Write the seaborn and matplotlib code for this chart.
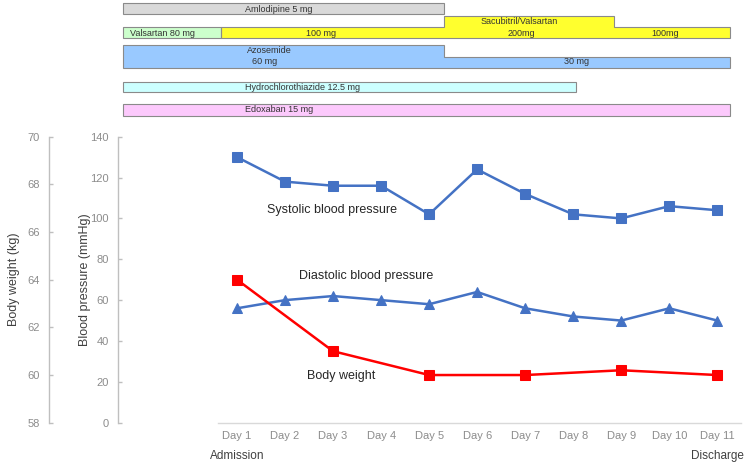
import matplotlib
matplotlib.use("Agg")
import matplotlib.pyplot as plt
import matplotlib.transforms as mtransforms
from matplotlib.patches import Polygon
import seaborn as sns

# ---------------- data ----------------
day_numbers = [1, 2, 3, 4, 5, 6, 7, 8, 9, 10, 11]
day_labels = ["Day 1", "Day 2", "Day 3", "Day 4", "Day 5", "Day 6",
              "Day 7", "Day 8", "Day 9", "Day 10", "Day 11"]
systolic = [130, 118, 116, 116, 102, 124, 112, 102, 100, 106, 104]
diastolic = [56, 60, 62, 60, 58, 64, 56, 52, 50, 56, 50]
weight_days = [1, 3, 5, 7, 9, 11]
body_weight = [64.0, 61.0, 60.0, 60.0, 60.2, 60.0]

bp_ticks = [0, 20, 40, 60, 80, 100, 120, 140]
bw_ticks = [58, 60, 62, 64, 66, 68, 70]

# drug timeline (x in day units)
drug_text = ["Amlodipine 5 mg", "Valsartan 80 mg", "100 mg", "200mg", "100mg",
             "60 mg", "30 mg", "Hydrochlorothiazide 12.5 mg", "Edoxaban 15 mg"]
drug_start = [-1.375, -1.375, 0.66, 5.32, 8.86, -1.375, 5.32, -1.375, -1.375]
drug_end = [5.32, 0.66, 5.32, 8.86, 11.27, 5.32, 11.27, 8.06, 11.27]
drug_group = [0, 1, 2, 2, 2, 3, 3, 4, 5]

# ---------------- layout / style ----------------
drug_top = [3.3, 27.3, 27.3, 15.7, 27.3, 45.0, 56.7, 81.7, 104.3]
drug_bottom = [14.3, 38.3, 38.3, 38.3, 38.3, 67.7, 67.7, 92.3, 115.7]
drug_colors = ["#d9d9d9", "#ccffcc", "#ffff2e", "#ffff2e", "#ffff2e",
               "#99c9ff", "#99c9ff", "#ccffff", "#fcc9fc"]

sns.set_style("white")
plt.rcParams["font.family"] = ["Liberation Sans", "DejaVu Sans"]

W, H = 750, 463
fig = plt.figure(figsize=(7.5, 4.63), dpi=100)

left_px, right_px = 218, 741
top_px, bot_px = 136.7, 422.7
ax = fig.add_axes([left_px / W, (H - bot_px) / H,
                   (right_px - left_px) / W, (bot_px - top_px) / H])

blue = "#4472C4"
red = "#FF0000"

sns.lineplot(x=day_numbers, y=systolic, ax=ax, color=blue, marker="s",
             markersize=7, markeredgecolor=blue, linewidth=1.8)
sns.lineplot(x=day_numbers, y=diastolic, ax=ax, color=blue, marker="^",
             markersize=7, markeredgecolor=blue, linewidth=1.8)

x0 = 1 - (237 - left_px) / 48.0
x1 = 11 + (right_px - 717.3) / 48.0
ax.set_xlim(x0, x1)
ax.set_ylim(0, 140)
ax.set_yticks(bp_ticks)
ax.set_xticks(day_numbers)
ax.set_xticklabels(day_labels)

for s in ["top", "right"]:
    ax.spines[s].set_visible(False)
ax.spines["bottom"].set_color("#d9d9d9")
ax.spines["bottom"].set_linewidth(1.0)
ax.spines["left"].set_color("#bfbfbf")
ax.spines["left"].set_linewidth(1.0)
ax.spines["left"].set_position(("outward", (left_px - 118.3) * 0.72))

ax.tick_params(axis="x", length=0, pad=6, labelsize=8, labelcolor="#8c8c8c")
ax.tick_params(axis="y", direction="in", length=3, width=1, color="#bfbfbf",
               pad=6.7, labelsize=8, labelcolor="#8c8c8c", left=True)
ax.set_ylabel("Blood pressure (mmHg)", fontsize=9, color="#404040")
ax.yaxis.set_label_coords((91 - left_px) / (right_px - left_px), 0.5)
ax.grid(False)

ax2 = ax.twinx()
sns.lineplot(x=weight_days, y=body_weight, ax=ax2, color=red, marker="s",
             markersize=7, markeredgecolor=red, linewidth=1.8)
ax2.set_ylim(58, 70)
ax2.set_yticks(bw_ticks)
ax2.set_xlim(x0, x1)
for s in ["top", "right", "bottom"]:
    ax2.spines[s].set_visible(False)
ax2.yaxis.tick_left()
ax2.yaxis.set_label_position("left")
ax2.spines["left"].set_visible(True)
ax2.spines["left"].set_color("#bfbfbf")
ax2.spines["left"].set_linewidth(1.0)
ax2.spines["left"].set_position(("outward", (left_px - 49.3) * 0.72))
ax2.tick_params(axis="y", direction="in", length=3, width=1, color="#bfbfbf",
                pad=6.7, labelsize=8, labelcolor="#8c8c8c", left=True, right=False,
                labelleft=True, labelright=False)
ax2.set_ylabel("Body weight (kg)", fontsize=9, color="#404040")
ax2.yaxis.set_label_coords((20 - left_px) / (right_px - left_px), 0.5)
ax2.grid(False)

ax.text(1.62, 104.1, "Systolic blood pressure", fontsize=9, color="#262626",
        ha="left", va="center")
ax.text(2.29, 71.9, "Diastolic blood pressure", fontsize=9, color="#262626",
        ha="left", va="center")
ax.text(2.46, 22.9, "Body weight", fontsize=9, color="#262626",
        ha="left", va="center")

trans = mtransforms.blended_transform_factory(ax.transData, ax.transAxes)
ax.text(1, -0.1154, "Admission", transform=trans, fontsize=8.5,
        color="#404040", ha="center", va="center")
ax.text(11, -0.1154, "Discharge", transform=trans, fontsize=8.5,
        color="#404040", ha="center", va="center")

# ---------------- drug timeline ----------------
axt = fig.add_axes([0, (H - 120) / H, 1, 120 / H])
axt.set_xlim(1 - 237 / 48.0, 1 + (W - 237) / 48.0)
axt.set_ylim(120, 0)
axt.axis("off")
for st, en, tp, bt, col in zip(drug_start, drug_end, drug_top, drug_bottom, drug_colors):
    axt.barh(y=(tp + bt) / 2, width=en - st, left=st, height=bt - tp,
             color=col, linewidth=0)

# outlines per drug (step shape when the dose changes)
for g in sorted(set(drug_group)):
    idx = [i for i, gg in enumerate(drug_group) if gg == g]
    bottom = drug_bottom[idx[0]]
    pts = [(drug_start[idx[0]], bottom)]
    for i in idx:
        pts.append((drug_start[i], drug_top[i]))
        pts.append((drug_end[i], drug_top[i]))
    pts.append((drug_end[idx[-1]], bottom))
    axt.add_patch(Polygon(pts, closed=True, fill=False, edgecolor="#8a8a8a",
                          linewidth=0.8))

def px2day(px):
    return 1 + (px - 237) / 48.0

tkw = dict(fontsize=6.5, color="#333333", va="center")
axt.text(px2day(245), 9, drug_text[0], ha="left", **tkw)
axt.text(px2day(162), 33, drug_text[1], ha="center", **tkw)
axt.text(px2day(321), 33, drug_text[2], ha="center", **tkw)
axt.text(px2day(519), 21.5, "Sacubitril/Valsartan", ha="center", **tkw)
axt.text(px2day(521), 33, drug_text[3], ha="center", **tkw)
axt.text(px2day(665), 33, drug_text[4], ha="center", **tkw)
axt.text(px2day(246.5), 50.5, "Azosemide", ha="left", **tkw)
axt.text(px2day(251.5), 62, drug_text[5], ha="left", **tkw)
axt.text(px2day(577), 62, drug_text[6], ha="center", **tkw)
axt.text(px2day(245), 87, drug_text[7], ha="left", **tkw)
axt.text(px2day(245), 110, drug_text[8], ha="left", **tkw)

fig.savefig("out.png", dpi=100)
